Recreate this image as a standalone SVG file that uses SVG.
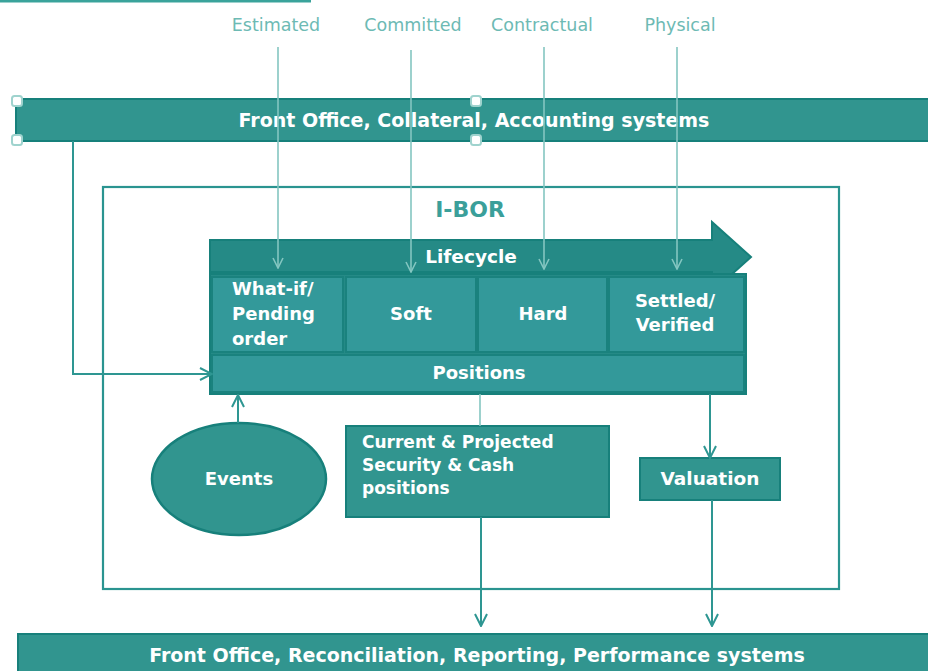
<svg xmlns="http://www.w3.org/2000/svg" width="928" height="671" viewBox="0 0 928 671">
<style>
.bar{fill:#31958f;stroke:#17807b;stroke-width:2}
.cell{fill:#33999a;stroke:#1a827e;stroke-width:2}
.dk{fill:#258a86;stroke:#17807b;stroke-width:2}
.wt{fill:#ffffff;font-family:"DejaVu Sans",sans-serif}
.lbl{fill:#6dbab4;font-family:"DejaVu Sans",sans-serif;font-size:17.5px;text-anchor:middle}
.ln{stroke:#84c6c1;stroke-width:1.6;fill:none}
.ln2{stroke:#2e9692;stroke-width:2;fill:none}
.h{fill:#ffffff;stroke:#9fd3ce;stroke-width:2}
</style>
<defs>
<marker id="ah" viewBox="0 0 12 12" refX="11" refY="6" markerWidth="12" markerHeight="12" markerUnits="userSpaceOnUse" orient="auto">
<path d="M1,1 L11,6 L1,11" fill="none" stroke="#84c6c1" stroke-width="1.6"/>
</marker>
<marker id="ah2" viewBox="0 0 14 14" refX="13" refY="7" markerWidth="14" markerHeight="14" markerUnits="userSpaceOnUse" orient="auto">
<path d="M1,1 L13,7 L1,13" fill="none" stroke="#2e9692" stroke-width="2"/>
</marker>
</defs>
<rect x="0" y="0" width="311" height="2.5" fill="#3aa39b"/>

<g id="labels">
<text class="lbl" x="276" y="31">Estimated</text>
<text class="lbl" x="413" y="31">Committed</text>
<text class="lbl" x="542" y="31">Contractual</text>
<text class="lbl" x="680" y="31">Physical</text>
</g>

<g id="ibor">
<rect x="103" y="187" width="736" height="402" fill="none" stroke="#2a9490" stroke-width="2.2"/>
<text x="470" y="217" fill="#3b9f9a" font-family="DejaVu Sans,sans-serif" font-weight="bold" font-size="22" text-anchor="middle">I-BOR</text>
</g>

<g id="top-bar">
<rect class="bar" x="16" y="99" width="915" height="42"/>
<text class="wt" x="474" y="127" font-size="19" font-weight="bold" text-anchor="middle">Front Office, Collateral, Accounting systems</text>
<rect class="h" x="12" y="96" width="10" height="10" rx="2.5"/>
<rect class="h" x="12" y="135" width="10" height="10" rx="2.5"/>
<rect class="h" x="471" y="96" width="10" height="10" rx="2.5"/>
<rect class="h" x="471" y="135" width="10" height="10" rx="2.5"/>
</g>

<g id="lifecycle">
<path class="dk" d="M210,240 L712,240 L712,222 L751,257 L712,292 L712,272 L210,272 Z"/>
<text class="wt" x="471" y="263" font-size="18.5" font-weight="bold" text-anchor="middle">Lifecycle</text>
</g>

<g id="stages">
<rect class="dk" x="210" y="274" width="536" height="120"/>
<rect class="cell" x="212" y="277" width="131" height="75"/>
<rect class="cell" x="346" y="277" width="130" height="75"/>
<rect class="cell" x="478" y="277" width="129" height="75"/>
<rect class="cell" x="609" y="277" width="135" height="75"/>
<text class="wt" font-size="18" font-weight="bold"><tspan x="232" y="295">What-if/</tspan><tspan x="232" y="320">Pending</tspan><tspan x="232" y="345">order</tspan></text>
<text class="wt" x="411" y="320" font-size="18" font-weight="bold" text-anchor="middle">Soft</text>
<text class="wt" x="543" y="320" font-size="18" font-weight="bold" text-anchor="middle">Hard</text>
<text class="wt" font-size="18" font-weight="bold" text-anchor="middle"><tspan x="675" y="307">Settled/</tspan><tspan x="675" y="331">Verified</tspan></text>
</g>

<g id="positions">
<rect class="cell" x="212" y="355" width="532" height="37"/>
<text class="wt" x="479" y="379" font-size="18" font-weight="bold" text-anchor="middle">Positions</text>
</g>

<g id="events">
<ellipse cx="239" cy="479" rx="87" ry="56" fill="#31958f" stroke="#17807b" stroke-width="2.5"/>
<text class="wt" x="239" y="485" font-size="18" font-weight="bold" text-anchor="middle">Events</text>
</g>

<g id="current">
<rect class="bar" x="346" y="426" width="263" height="91"/>
<text class="wt" font-size="17" font-weight="bold"><tspan x="362" y="448">Current &amp; Projected</tspan><tspan x="362" y="471">Security &amp; Cash</tspan><tspan x="362" y="494">positions</tspan></text>
</g>

<g id="valuation">
<rect class="bar" x="640" y="458" width="140" height="42"/>
<text class="wt" x="710" y="485" font-size="18.5" font-weight="bold" text-anchor="middle">Valuation</text>
</g>

<g id="bottom-bar">
<rect class="bar" x="18" y="634" width="915" height="42"/>
<text class="wt" x="477" y="662" font-size="19" font-weight="bold" text-anchor="middle">Front Office, Reconciliation, Reporting, Performance systems</text>
</g>

<g id="connectors">
<line class="ln" x1="278" y1="47" x2="278" y2="268" marker-end="url(#ah)"/>
<line class="ln" x1="411" y1="50" x2="411" y2="272" marker-end="url(#ah)"/>
<line class="ln" x1="544" y1="47" x2="544" y2="269" marker-end="url(#ah)"/>
<line class="ln" x1="677" y1="47" x2="677" y2="269" marker-end="url(#ah)"/>
<path class="ln2" d="M73,141 L73,374 L212,374" marker-end="url(#ah2)"/>
<line class="ln2" x1="238" y1="423" x2="238" y2="395" marker-end="url(#ah2)"/>
<line class="ln" x1="480" y1="394" x2="480" y2="426"/>
<line class="ln2" x1="481" y1="517" x2="481" y2="626" marker-end="url(#ah2)"/>
<line class="ln2" x1="710" y1="394" x2="710" y2="458" marker-end="url(#ah2)"/>
<line class="ln2" x1="712" y1="500" x2="712" y2="626" marker-end="url(#ah2)"/>
</g>
</svg>
